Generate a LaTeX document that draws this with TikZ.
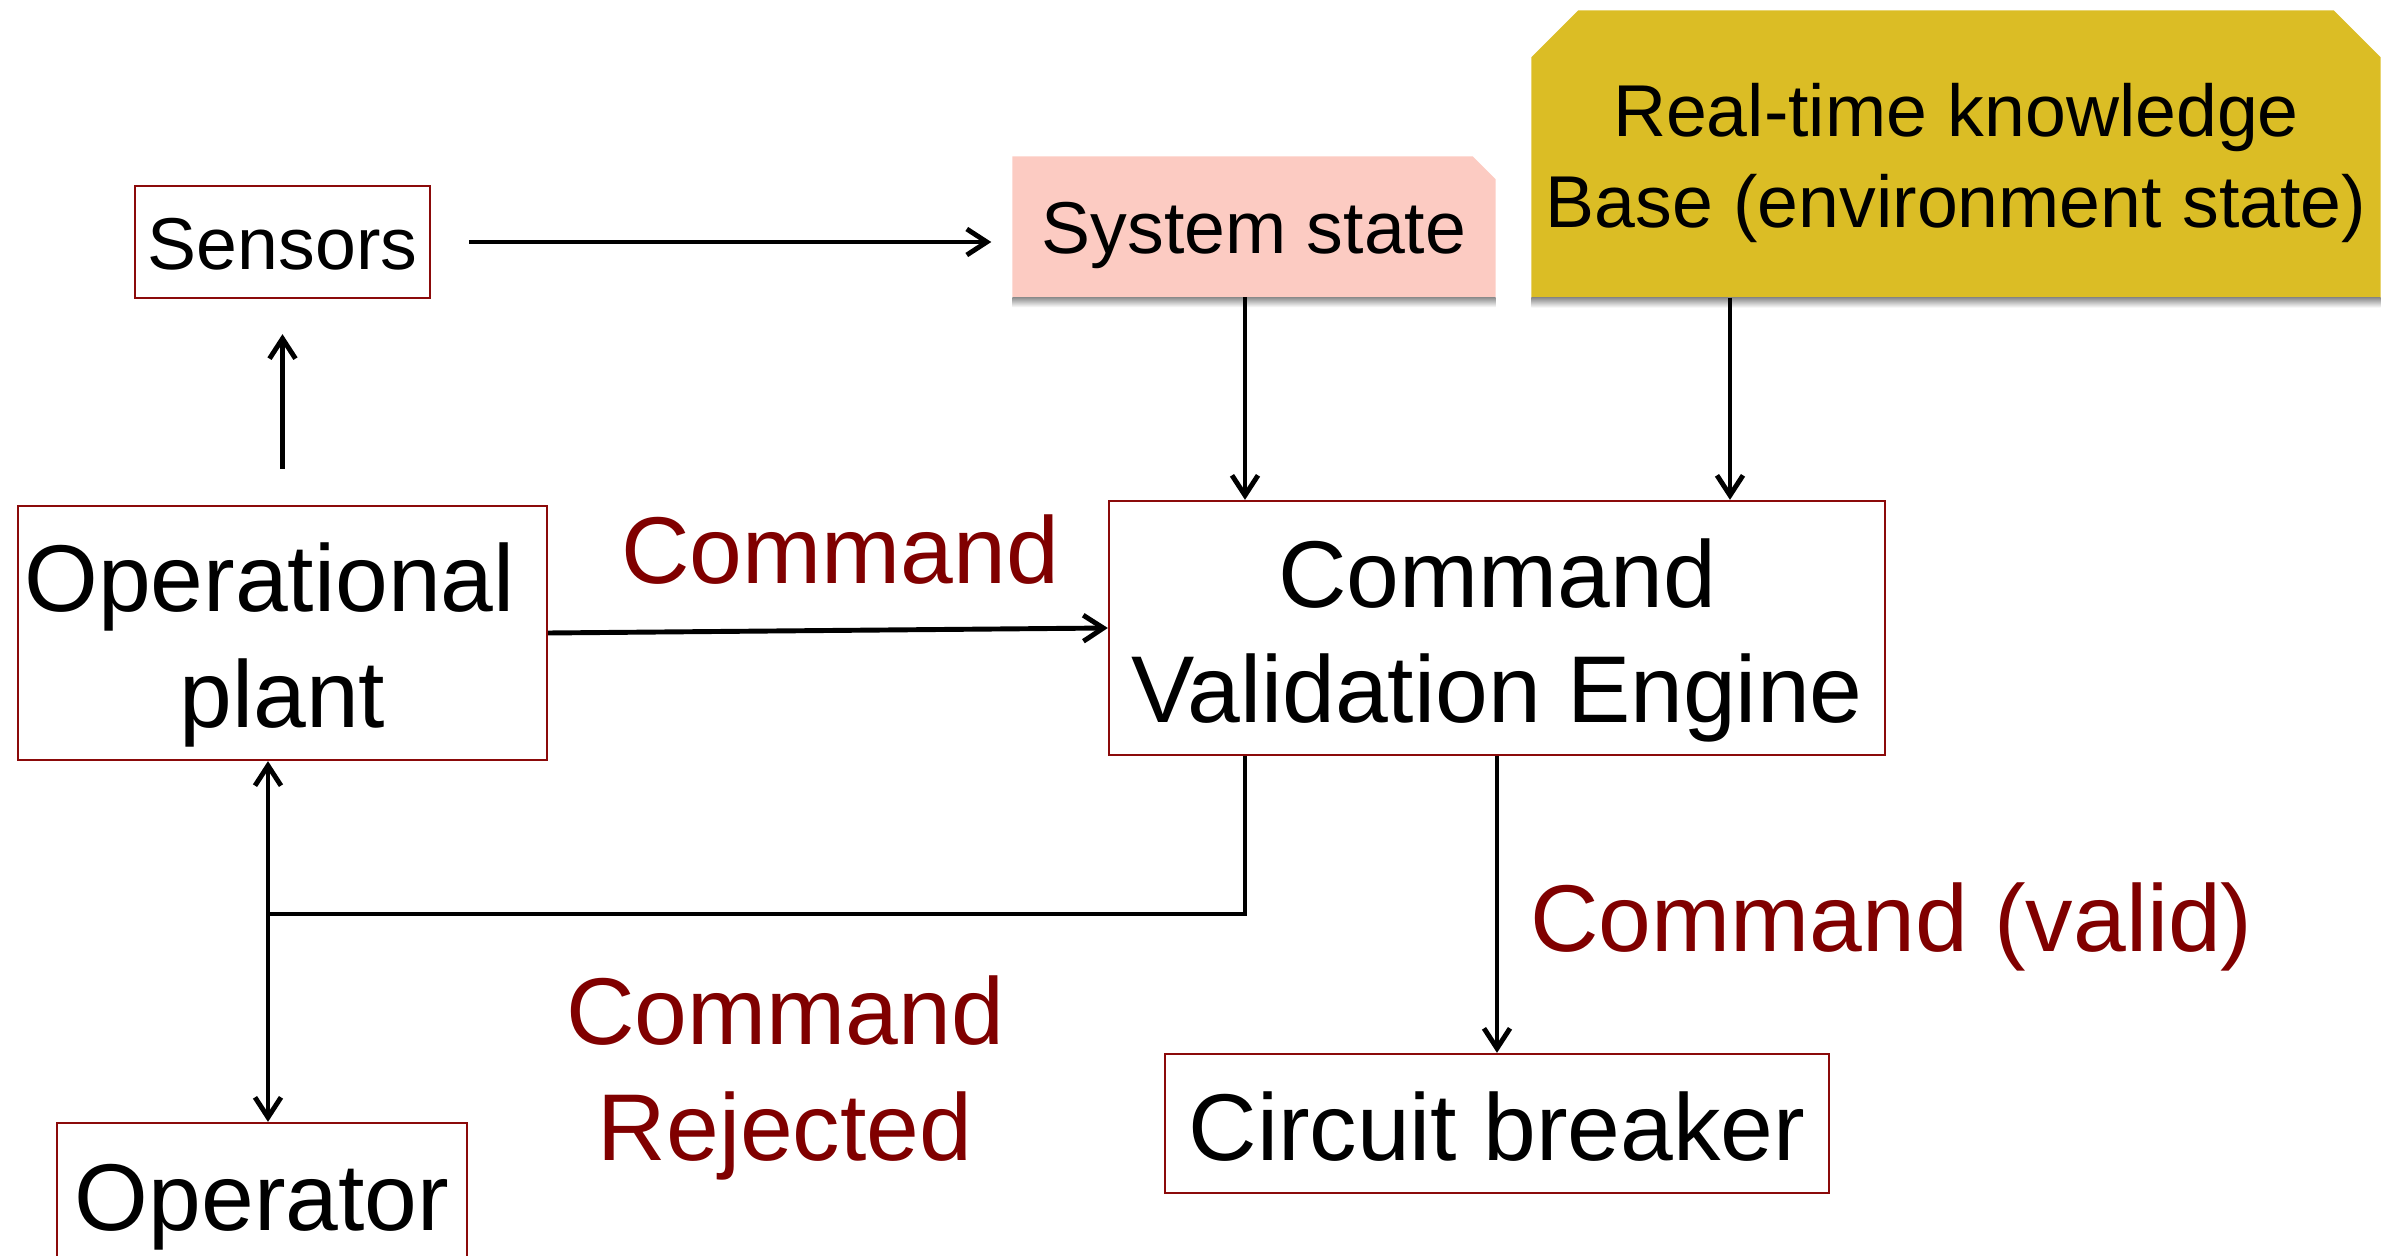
\documentclass[tikz,border=0pt]{standalone}
\usepackage{fontspec}
\setmainfont{Liberation Sans}
\usetikzlibrary{arrows.meta,backgrounds,calc}
\definecolor{boxred}{RGB}{139,10,10}
\definecolor{labelred}{RGB}{128,0,0}
\definecolor{statepink}{RGB}{252,203,194}
\definecolor{kbgold}{RGB}{219,189,37}
\tikzset{
  bigtext/.style={font=\fontsize{27pt}{33pt}\selectfont},
  smalltext/.style={font=\fontsize{20.9pt}{25.9pt}\selectfont},
  block/.style={draw=boxred, line width=0.65pt, inner sep=0pt, align=center},
  plainbox/.style={inner sep=0pt, align=center},
  flowlabel/.style={bigtext, text=labelred, inner sep=0pt, align=center, anchor=base},
  conn/.style={line width=1.4pt, draw=black},
  barb/.tip={Straight Barb[length=0.2cm,width=0.26cm]},
  arr/.style={conn, -barb},
  dblarr/.style={conn, barb-barb},
  shadowstrip/.style={top color=black!45, bottom color=white, draw=none},
}
\begin{document}
\begin{tikzpicture}
\useasboundingbox (0,0) rectangle (23.83,-12.56);

% blocks (the base line of a multi-line block is its last line)
\node[block, smalltext, minimum width=2.95cm, minimum height=1.12cm,
      text height=0.56cm, text depth=0cm] (sensors) at (2.825,-2.42) {Sensors};
\node[plainbox, smalltext, minimum width=4.82cm, minimum height=1.395cm,
      text height=0.54cm, text depth=0cm] (sys) at (12.54,-2.2675) {System state};
\node[plainbox, smalltext, minimum width=8.48cm, minimum height=2.86cm,
      text height=1.48cm, text depth=0cm] (kb) at (19.56,-1.54)
      {Real-time knowledge\\Base (environment state)};
\node[block, bigtext, minimum width=5.29cm, minimum height=2.54cm,
      text height=1.88cm, text depth=0cm] (plant) at (2.825,-6.33)
      {Operational\rule{0.26cm}{0pt}\\plant};
\node[block, bigtext, minimum width=7.76cm, minimum height=2.54cm,
      text height=1.9cm, text depth=0cm] (cve) at (14.97,-6.28)
      {Command\\Validation Engine};
\node[block, bigtext, minimum width=4.105cm, minimum height=1.39cm,
      text height=0.75cm, text depth=0cm] (op) at (2.62,-11.925) {Operator};
\node[block, bigtext, minimum width=6.635cm, minimum height=1.39cm,
      text height=0.73cm, text depth=0cm] (breaker) at (14.97,-11.235) {Circuit breaker};

% flow labels
\node[flowlabel] (cmdlbl) at (8.40,-5.83) {Command};
\node[flowlabel] (rejlbl) at (7.85,-11.60) {Command\\Rejected};
\node[flowlabel] (validlbl) at (18.915,-9.51) {Command (valid)};

% filled shapes with cut corners
\begin{scope}[on background layer]
  \fill[statepink] (sys.south west) -- (sys.north west)
    -- ([xshift=-0.23cm]sys.north east) -- ([yshift=-0.23cm]sys.north east)
    -- (sys.south east) -- cycle;
  \fill[kbgold] (kb.south west) -- ([yshift=-0.47cm]kb.north west)
    -- ([xshift=0.47cm]kb.north west) -- ([xshift=-0.47cm]kb.north east)
    -- ([yshift=-0.47cm]kb.north east) -- (kb.south east) -- cycle;
\end{scope}

% soft shadows under the filled shapes
\shade[shadowstrip] (sys.south west) rectangle ([yshift=-0.1cm]sys.south east);
\shade[shadowstrip] (kb.south west) rectangle ([yshift=-0.1cm]kb.south east);

% routing helpers
\coordinate (sx) at (12.45,0);
\coordinate (kx) at (17.30,0);
\coordinate (jn) at (2.68,-9.14);

% connectors
\draw[arr, shorten <=0.36cm, shorten >=0.35cm] (plant.north) -- (sensors.south);
\draw[arr, shorten <=0.38cm, shorten >=0.21cm] (sensors.east) -- (sensors.east -| sys.west);
\draw[arr] (sys.south -| sx) -- (cve.north -| sx);
\draw[arr] (kb.south -| kx) -- (cve.north -| kx);
\draw[arr] (plant.east) -- (cve.west);
\draw[arr] (cve.south) -- (breaker.north);
\draw[dblarr] (plant.south -| jn) -- (op.north -| jn);
\draw[conn] (cve.south -| sx) |- (jn);
\end{tikzpicture}
\end{document}
